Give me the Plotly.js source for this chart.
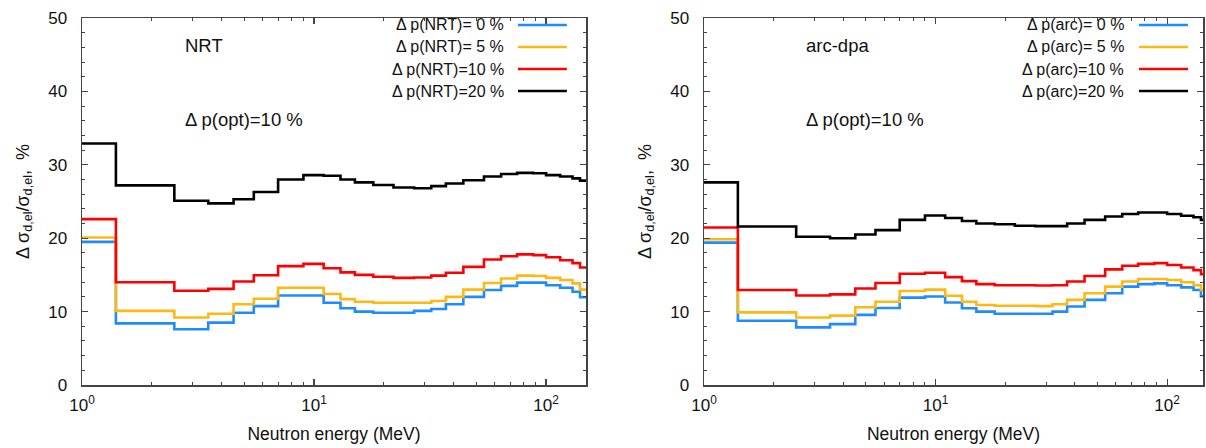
<!DOCTYPE html>
<html><head><meta charset="utf-8">
<script src="https://cdn.plot.ly/plotly-3.0.1.min.js"></script>
<style>html,body{margin:0;padding:0;background:#fff}#chart{width:1206px;height:448px}</style>
</head><body><div id="chart"></div><script>
// Neutron energy bin edges (MeV)
const binEdges = [1, 1.4, 2.5, 3.5, 4.5, 5.5, 7, 9, 11, 13, 15, 18, 22, 27, 32, 37, 44, 54, 64, 75, 88, 100, 115, 130, 140, 150];

// Left panel (NRT) – relative uncertainty, %
const nrt0  = [19.5, 8.4, 7.6, 8.5, 9.85, 10.75, 12.2, 12.2, 11.2, 10.45, 10.0, 9.85, 9.85, 10.1, 10.35, 11.0, 12.0, 12.95, 13.5, 13.95, 13.95, 13.6, 13.25, 12.7, 11.95];
const nrt5  = [20.1, 10.1, 9.2, 9.7, 11.0, 11.75, 13.25, 13.25, 12.4, 11.7, 11.35, 11.2, 11.2, 11.2, 11.45, 12.0, 13.0, 13.9, 14.5, 14.9, 14.85, 14.6, 14.3, 13.85, 13.0];
const nrt10 = [22.6, 14.0, 12.85, 13.1, 14.1, 14.95, 16.2, 16.5, 15.9, 15.35, 15.0, 14.75, 14.6, 14.65, 14.9, 15.3, 16.1, 17.1, 17.55, 17.8, 17.7, 17.4, 17.0, 16.6, 16.0];
const nrt20 = [32.9, 27.2, 25.1, 24.75, 25.3, 26.3, 28.0, 28.6, 28.5, 28.0, 27.6, 27.25, 26.9, 26.8, 27.1, 27.45, 27.9, 28.4, 28.75, 28.9, 28.85, 28.6, 28.4, 28.15, 27.85];

// Right panel (arc-dpa)
const arc0  = [19.4, 8.75, 7.85, 8.3, 9.55, 10.5, 11.9, 12.05, 11.25, 10.45, 10.0, 9.7, 9.7, 9.7, 10.0, 10.7, 11.6, 12.5, 13.4, 13.75, 13.85, 13.6, 13.3, 12.95, 12.1];
const arc5  = [19.85, 9.9, 9.2, 9.45, 10.6, 11.35, 12.8, 13.0, 12.15, 11.35, 10.9, 10.8, 10.8, 10.75, 11.0, 11.6, 12.5, 13.4, 14.1, 14.45, 14.45, 14.3, 14.0, 13.6, 12.95];
const arc10 = [21.45, 12.95, 12.2, 12.35, 13.15, 13.9, 15.15, 15.3, 14.7, 14.15, 13.75, 13.6, 13.6, 13.55, 13.6, 14.1, 14.85, 15.75, 16.25, 16.5, 16.6, 16.35, 16.0, 15.65, 15.1];
const arc20 = [27.6, 21.6, 20.2, 20.0, 20.5, 21.1, 22.5, 23.1, 22.75, 22.35, 22.0, 21.9, 21.7, 21.65, 21.65, 22.0, 22.5, 22.95, 23.3, 23.5, 23.5, 23.3, 23.05, 22.85, 22.5];

const nrtNames = ['\u0394 p(NRT)= 0 %', '\u0394 p(NRT)= 5 %', '\u0394 p(NRT)=10 %', '\u0394 p(NRT)=20 %'];
const arcNames = ['\u0394 p(arc)= 0 %', '\u0394 p(arc)= 5 %', '\u0394 p(arc)=10 %', '\u0394 p(arc)=20 %'];
const seriesColors = ['#1e8cff', '#ffb812', '#ff0000', '#000000'];
const panelLabels = ['NRT', 'arc-dpa'];
const optLabel = '\u0394 p(opt)=10 %';
const xTitle = 'Neutron energy (MeV)';
const yTitle = '\u0394 \u03c3<sub>d,el</sub>/\u03c3<sub>d,el</sub>,  %';
const xTickVals = [1, 10, 100];
const xTickText = ['10<sup>0</sup>', '10<sup>1</sup>', '10<sup>2</sup>'];
const xMinorVals = [2, 3, 4, 5, 6, 7, 8, 9, 20, 30, 40, 50, 60, 70, 80, 90];
const yTickVals = [0, 10, 20, 30, 40, 50];

const FONT = 'Liberation Sans, Arial, sans-serif';
const AX = '#444';

function stepTrace(vals, name, color, xa, ya) {
  return {
    type: 'scatter', mode: 'lines', name: name,
    x: binEdges, y: vals.concat([vals[vals.length - 1]]),
    line: {shape: 'hv', color: color, width: 2.6},
    xaxis: xa, yaxis: ya, showlegend: false, hoverinfo: 'x+y+name'
  };
}

const leftSeries = [nrt0, nrt5, nrt10, nrt20];
const rightSeries = [arc0, arc5, arc10, arc20];
const data = [];
leftSeries.forEach((s, i) => data.push(stepTrace(s, nrtNames[i], seriesColors[i], 'x', 'y')));
rightSeries.forEach((s, i) => data.push(stepTrace(s, arcNames[i], seriesColors[i], 'x2', 'y2')));

function xAxis(domain, range, anchor) {
  return {
    type: 'log', domain: domain, range: range, anchor: anchor,
    tickmode: 'array', tickvals: xTickVals, ticktext: xTickText,
    ticks: 'inside', ticklen: 6, tickwidth: 1.2, tickcolor: AX,
    minor: {tickmode: 'array', tickvals: xMinorVals, ticks: 'inside', ticklen: 3, tickwidth: 1, tickcolor: AX, showgrid: false},
    showline: true, linecolor: AX, linewidth: 1.5, mirror: 'ticks',
    showgrid: false, zeroline: false,
    tickfont: {family: FONT, size: 17, color: '#111'}, ticklabelstandoff: 4,
    title: {text: xTitle, font: {family: FONT, size: 17.5, color: '#111'}, standoff: 14}
  };
}
function yAxis(anchor) {
  return {
    range: [0, 50], domain: [0, 1], anchor: anchor,
    tickmode: 'array', tickvals: yTickVals,
    ticks: 'inside', ticklen: 6, tickwidth: 1.2, tickcolor: AX,
    minor: {dtick: 2, ticks: 'inside', ticklen: 3, tickwidth: 1, tickcolor: AX, showgrid: false},
    showline: true, linecolor: AX, linewidth: 1.5, mirror: 'ticks',
    showgrid: false, zeroline: false,
    tickfont: {family: FONT, size: 17, color: '#111'}, ticklabelstandoff: 10,
    title: {text: yTitle, font: {family: FONT, size: 18, color: '#111'}, standoff: 14}
  };
}

const annotations = [];
const shapes = [];
const rowY = [0.981, 0.921, 0.861, 0.801];
function addPanelDecor(xa, ya, label, names, textEnd, lineX0, lineX1) {
  const xr = xa + ' domain', yr = ya + ' domain';
  annotations.push({xref: xr, yref: yr, x: 0.2, y: 0.926, xanchor: 'left', yanchor: 'middle', showarrow: false,
    text: label, font: {family: FONT, size: 18.5, color: '#111'}});
  annotations.push({xref: xr, yref: yr, x: 0.2, y: 0.724, xanchor: 'left', yanchor: 'middle', showarrow: false,
    text: optLabel, font: {family: FONT, size: 18.5, color: '#111'}});
  names.forEach((n, i) => {
    annotations.push({xref: xr, yref: yr, x: textEnd, y: rowY[i], xanchor: 'right', yanchor: 'middle', showarrow: false,
      text: n, font: {family: FONT, size: 16, color: '#111'}});
    shapes.push({type: 'line', xref: xr, yref: yr, x0: lineX0, x1: lineX1, y0: rowY[i], y1: rowY[i],
      line: {color: seriesColors[i], width: 2.6}});
  });
}
addPanelDecor('x', 'y', panelLabels[0], nrtNames, 0.841, 0.865, 0.962);
addPanelDecor('x2', 'y2', panelLabels[1], arcNames, 0.8457, 0.8717, 0.97);

const layout = {
  width: 1206, height: 448,
  margin: {l: 82, r: 3, t: 18, b: 63},
  paper_bgcolor: '#fff', plot_bgcolor: '#fff',
  showlegend: false,
  font: {family: FONT, color: '#111'},
  xaxis: xAxis([0, 0.4496], [0, 2.172], 'y'),
  yaxis: yAxis('x'),
  xaxis2: xAxis([0.5549, 1], [0, 2.155], 'y2'),
  yaxis2: yAxis('x2'),
  annotations: annotations,
  shapes: shapes
};

Plotly.newPlot('chart', data, layout, {displayModeBar: false, staticPlot: true});
</script></body></html>
